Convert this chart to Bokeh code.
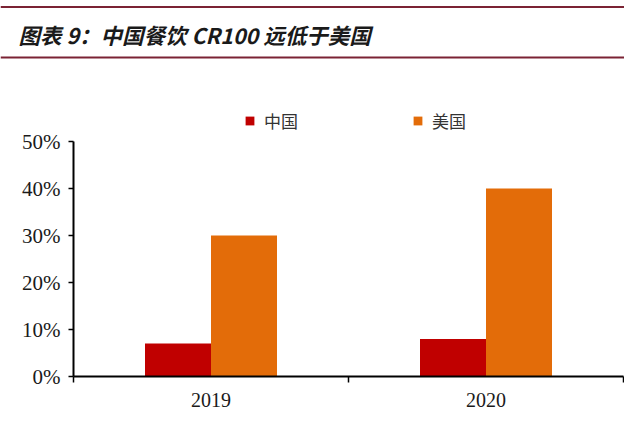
import numpy as np
from bokeh.plotting import figure
from bokeh.layouts import column
from bokeh.models import (ColumnDataSource, Range1d, FixedTicker, NumeralTickFormatter,
                          Legend, LegendItem)
from bokeh.transform import dodge
from bokeh.core.properties import value
from bokeh.embed import file_html
from bokeh.resources import INLINE

# ---- data ----
title_text = "图表 9：中国餐饮 CR100 远低于美国"
years = ["2019", "2020"]
china = [0.07, 0.08]
usa = [0.30, 0.40]
series_names = ["中国", "美国"]
y_ticks = [0.0, 0.1, 0.2, 0.3, 0.4, 0.5]

RED = "#C00000"
ORANGE = "#E36C09"
LINE = "#7b2334"

W = 624
# ---- header ----
HH = 70
h = figure(width=W, height=HH, output_backend="svg", toolbar_location=None,
           x_range=Range1d(0, W), y_range=Range1d(HH, 0),
           x_axis_location=None, y_axis_location=None,
           min_border=0, outline_line_color=None)
h.grid.visible = False
h.segment(x0=[0, 0], y0=[6.5, 57], x1=[W, W], y1=[6.5, 57],
          line_color=LINE, line_width=2)
h.text(x=[18], y=[34], text=[title_text], text_font=value("Noto Sans CJK SC"),
       text_font_style="bold italic", text_font_size="21.5px", text_color="#1a1a1a",
       text_align="left", text_baseline="middle")

# ---- chart ----
CH = 350
BOTTOM = 44
AXIS_PX = 235          # pixel height of the 0..50% axis
frame_h = CH - BOTTOM
y_max = 0.5
y_top = y_max * frame_h / AXIS_PX

n = len(years)
centers = [2 * i + 1 for i in range(n)]
bounds = [2 * i for i in range(n + 1)]
source = ColumnDataSource(dict(x=centers, china=china, usa=usa))

p = figure(width=W, height=CH, output_backend="svg", toolbar_location=None,
           x_range=Range1d(0, 2 * n), y_range=Range1d(0, y_top),
           min_border_top=0, min_border_bottom=BOTTOM, min_border_left=73,
           min_border_right=1, outline_line_color=None)
p.grid.visible = False

r1 = p.vbar(x=dodge("x", -0.24), top="china", width=0.48, source=source,
            fill_color=RED, line_color=None)
r2 = p.vbar(x=dodge("x", 0.24), top="usa", width=0.48, source=source,
            fill_color=ORANGE, line_color=None)

xa = p.xaxis[0]
xa.ticker = FixedTicker(ticks=centers, minor_ticks=bounds)
xa.major_label_overrides = {c: y for c, y in zip(centers, years)}
xa.major_tick_line_color = None
xa.major_tick_out = 0
xa.major_tick_in = 0
xa.minor_tick_out = 6
xa.minor_tick_in = 0
xa.minor_tick_line_color = "black"
xa.minor_tick_line_width = 1.5
xa.axis_line_width = 2
xa.axis_line_color = "black"
xa.major_label_standoff = 10
xa.major_label_text_font = "Liberation Serif"
xa.major_label_text_font_size = "20px"
xa.major_label_text_color = "#1a1a1a"

ya = p.yaxis[0]
ya.bounds = (0, y_max)
ya.ticker = FixedTicker(ticks=y_ticks)
ya.formatter = NumeralTickFormatter(format="0%")
ya.major_tick_out = 5
ya.major_tick_in = 0
ya.minor_tick_line_color = None
ya.major_tick_line_width = 1.5
ya.axis_line_width = 2
ya.axis_line_color = "black"
ya.major_label_standoff = 8
ya.major_label_text_font = "Liberation Serif"
ya.major_label_text_font_size = "21px"
ya.major_label_text_color = "#1a1a1a"

lg = Legend(items=[LegendItem(label=series_names[0], renderers=[r1]),
                   LegendItem(label=series_names[1], renderers=[r2])])
lg.orientation = "horizontal"
lg.location = (171, 243)
lg.border_line_color = None
lg.background_fill_alpha = 0
lg.padding = 0
lg.margin = 0
lg.spacing = 114
lg.glyph_width = 11
lg.glyph_height = 11
lg.label_standoff = 9
lg.label_height = 17
lg.label_text_font = "Noto Sans CJK SC"
lg.label_text_font_size = "17px"
lg.label_text_color = "#333333"
p.add_layout(lg, "center")

h.frame_align = False
p.frame_align = False

layout = column(h, p, spacing=0)
open("out.html", "w").write(file_html(layout, INLINE))
